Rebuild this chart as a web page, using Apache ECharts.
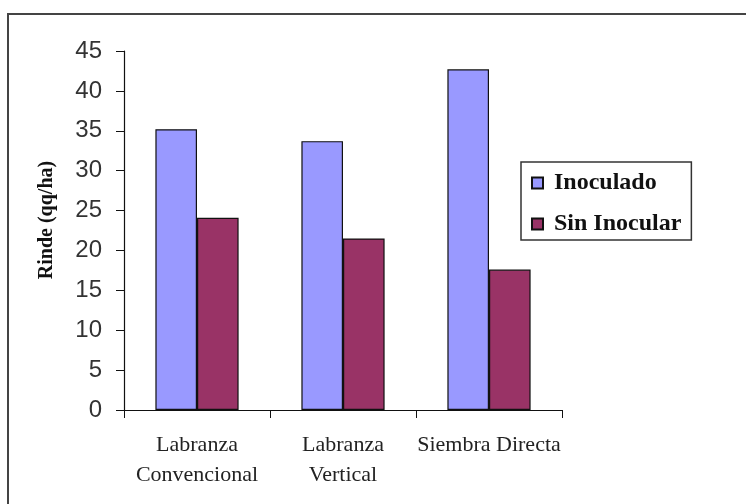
<!DOCTYPE html>
<html>
<head>
<meta charset="utf-8">
<title>Rinde</title>
<script src="https://cdn.jsdelivr.net/npm/echarts@6/dist/echarts.min.js"></script>
<style>
  html, body { margin: 0; padding: 0; background: #fff; }
  #chart { width: 746px; height: 504px; }
</style>
</head>
<body>
<div id="chart"></div>
<script>
const categories = ['Labranza\nConvencional', 'Labranza\nVertical', 'Siembra Directa']
const inoculado = [35.2, 33.7, 42.7]
const sinInocular = [24.1, 21.5, 17.6]
const yTicks = { min: 0, max: 45, interval: 5 }

const chart = echarts.init(document.getElementById('chart'))

chart.setOption({
  animation: false,
  grid: {
    left: 124,
    right: 184,
    top: 51,
    bottom: 94
  },
  legend: {
    orient: 'vertical',
    left: 521,
    top: 162,
    padding: [9, 10, 4, 10],
    itemGap: 17,
    itemWidth: 11,
    itemHeight: 11,
    icon: 'rect',
    borderColor: '#333',
    borderWidth: 1.5,
    textStyle: {
      fontFamily: 'Liberation Serif',
      fontWeight: 'bold',
      fontSize: 24,
      lineHeight: 22,
      padding: [0, 0, 0, 6],
      color: '#111'
    },
    data: ['Inoculado', 'Sin Inocular']
  },
  xAxis: {
    type: 'category',
    data: categories,
    axisLine: { lineStyle: { color: '#111', width: 1.2 } },
    axisTick: { show: true, length: 8, lineStyle: { color: '#111' } },
    axisLabel: {
      interval: 0,
      margin: 20,
      fontFamily: 'Liberation Serif',
      fontSize: 22,
      lineHeight: 30,
      color: '#222'
    }
  },
  yAxis: {
    type: 'value',
    min: yTicks.min,
    max: yTicks.max,
    interval: yTicks.interval,
    splitLine: { show: false },
    axisLine: { show: true, lineStyle: { color: '#111', width: 1.2 } },
    axisTick: { show: true, length: 8, lineStyle: { color: '#111' } },
    axisLabel: {
      margin: 22,
      fontFamily: 'Liberation Sans',
      fontSize: 24,
      color: '#333'
    }
  },
  graphic: [
    {
      // marco exterior
      type: 'rect',
      shape: { x: 8, y: 14, width: 800, height: 600 },
      style: { fill: 'none', stroke: '#444', lineWidth: 2 },
      silent: true
    },
    {
      type: 'text',
      x: 47,
      y: 220,
      rotation: Math.PI / 2,
      style: {
        text: 'Rinde (qq/ha)',
        font: 'bold 20px "Liberation Serif"',
        fill: '#111',
        align: 'center',
        verticalAlign: 'middle'
      }
    }
  ],
  series: [
    {
      name: 'Inoculado',
      type: 'bar',
      data: inoculado,
      barGap: '0%',
      barCategoryGap: '43%',
      itemStyle: { color: '#9999FF', borderColor: '#111', borderWidth: 1.2 }
    },
    {
      name: 'Sin Inocular',
      type: 'bar',
      data: sinInocular,
      itemStyle: { color: '#993366', borderColor: '#111', borderWidth: 1.2 }
    }
  ]
})
</script>
</body>
</html>
